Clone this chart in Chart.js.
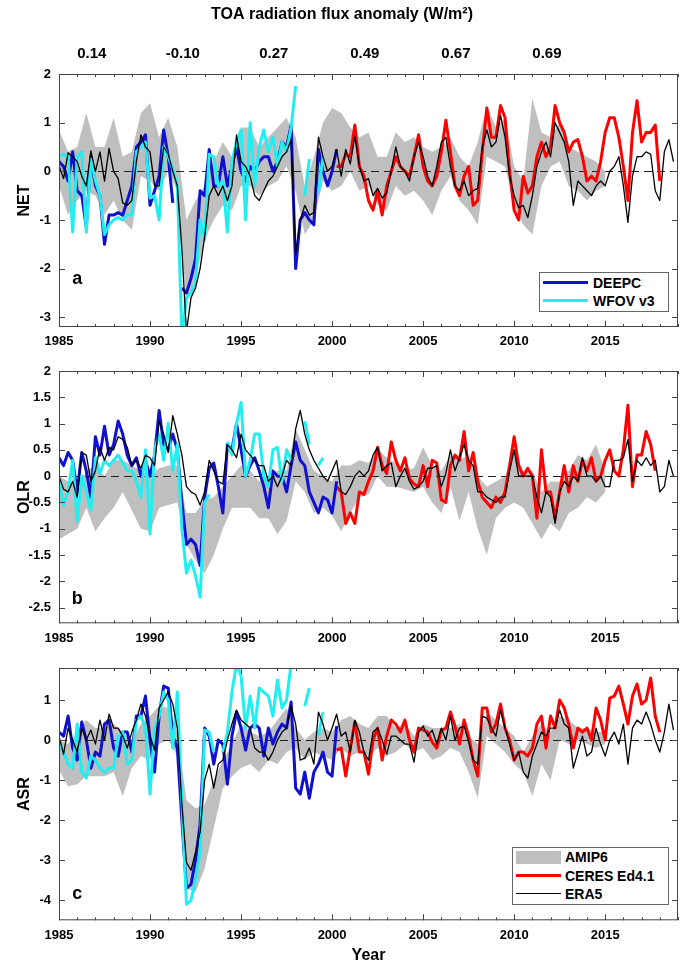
<!DOCTYPE html>
<html>
<head>
<meta charset="utf-8">
<script src="https://cdn.jsdelivr.net/npm/chart.js@4.4.0/dist/chart.umd.min.js"></script>
<style>
body { margin: 0; background: #fff; }
#wrap { position: relative; width: 685px; height: 965px; font-family: "Liberation Sans", Arial, sans-serif; }
canvas { position: absolute; left: 0; }
.legend { position: absolute; box-sizing: border-box; border: 1px solid #666; background: #fff; }
.legend .sw { position: absolute; left: 3px; width: 45px; }
.legend .lt { position: absolute; font-weight: bold; font-size: 14px; line-height: 16px; white-space: nowrap; color: #000; }
</style>
</head>
<body>
<div id="wrap">
	<canvas id="netChart" width="685" height="360" style="top:0px"></canvas>
	<canvas id="olrChart" width="685" height="310" style="top:345px"></canvas>
	<canvas id="asrChart" width="685" height="320" style="top:645px"></canvas>
	<div class="legend" style="left:539px;top:272px;width:130px;height:40px">
		<div class="sw" style="top:8px;height:3px;background:#1010d0"></div>
		<div class="lt" style="left:53px;top:2px">DEEPC</div>
		<div class="sw" style="top:26px;height:3px;background:#22eef2"></div>
		<div class="lt" style="left:53px;top:20px">WFOV v3</div>
	</div>
	<div class="legend" style="left:512px;top:847px;width:157px;height:58px">
		<div class="sw" style="top:3px;height:13px;background:#bfbfbf"></div>
		<div class="lt" style="left:52px;top:1px">AMIP6</div>
		<div class="sw" style="top:26px;height:3px;background:#ff0000"></div>
		<div class="lt" style="left:52px;top:20px">CERES Ed4.1</div>
		<div class="sw" style="top:45px;height:1px;background:#000"></div>
		<div class="lt" style="left:52px;top:38px">ERA5</div>
	</div>
</div>
<script>
// 5-year mean values printed above the top panel
const topYears = [1986.8, 1991.8, 1996.8, 2001.8, 2006.8, 2011.8];
const topLabels = ['0.14', '-0.10', '0.27', '0.49', '0.67', '0.69'];

// tick labels
const netTicks = [-3, -2, -1, 0, 1, 2];
const olrTicks = [-2.5, -2, -1.5, -1, -0.5, 0, 0.5, 1, 1.5, 2];
const asrTicks = [-4, -3, -2, -1, 0, 1];

// series start years (quarterly series, AMIP6 half-yearly)
const era5Start = 1985, deepcStart = 1985, wfovStart = 1985, ceresStart = 2000.25, amipStart = 1985;

// ---- NET ----
const netEra5 = [
	0.12, -0.15, 0.38, 0.3,  0.2, -0.1, -0.3, 0.42,  0.0, 0.4, -0.2, 0.47,  0.0, -0.15, -0.65, -0.7,
	-0.6, 0.2, 0.75, 0.5,  0.4, -0.3, -0.3, 0.5,  0.35, 0.0, -0.3, -1.6,  -3.3, -2.6, -2.4, -2.0,
	-1.35, -0.5, -0.3, -0.5,  -0.3, -0.6, -0.3, 0.75,  0.2, 0.1, -0.1, -0.5,  -0.6, -0.4, -0.2, -0.1,
	0.1, 0.3, 0.4, 0.65,  -1.7, -1.0, -0.7, -0.9,  -0.85, 0.7, 0.3, 0.0,  0.1, 0.45, -0.1, 0.45,
	0.15, 0.72, 0.1, -0.2,  -0.15, -0.5, -0.35, -0.55,  -0.45, 0.0, 0.5, 0.1,  0.0, -0.2, 0.3, 0.6,
	0.3, -0.1, -0.3, 0.1,  0.6, 0.7, 0.1, -0.3,  -0.4, -0.2, -0.5, -0.4,  -0.35, 0.5, 0.85, 0.5,
	0.6, 1.15, 0.7, -0.1,  -0.5, -0.75, -0.7, -0.95,  -0.5, 0.1, 0.4, 0.6,  0.3, 1.0, 0.8, 0.6,
	0.2, -0.7, -0.2, -0.3,  -0.4, -0.5, -0.3, -0.2,  -0.3, 0.0, 0.1, 0.3,  -0.3, -1.05, -0.1, 0.3,
	0.3, 0.4, 0.35, -0.4,  -0.6, 0.4, 0.65, 0.2
];
const netCeres = [
	0.1, 0.1, 0.35,  0.3, 0.95, 0.1, -0.1,  -0.6, -0.8, -0.4, -0.9,  -0.3, 0.0, 0.3, 0.1,
	0.0, -0.1, 0.3, 0.75,  0.1, -0.2, -0.3, -0.1,  0.4, 1.05, 0.4, -0.3,  -0.5, -0.1, 0.1, -0.7,
	-0.6, 0.4, 1.3, 0.7,  0.7, 1.35, 1.1, 0.0,  -0.8, -1.0, -0.1, -0.45,  -0.3, 0.3, 0.6, 0.3,
	0.5, 1.35, 1.0, 0.8,  0.4, 0.6, 0.65, 0.3,  -0.2, -0.1, -0.2, 0.2,  0.8, 1.1, 1.1, 0.7,
	0.1, -0.6, 0.8, 1.45,  0.6, 0.8, 0.8, 0.95,  -0.2
];
const netDeepc = [
	0.2, 0.1, -0.2, 0.4,  -0.4, -0.5, -1.15, 0.3,  -0.3, -0.5, -1.5, -0.9,  -0.9, -0.85, -0.9, -0.6,
	-0.3, 0.5, 0.6, 0.75,  -0.7, -0.4, -0.1, 0.85,  0.3, -0.65, null, -2.4,  -2.5, -2.2, -1.8, -0.4,
	-0.5, 0.45, -0.3, -0.3,  0.3, -0.3, 0.1, 0.5,  0.0, -0.2, 0.1, 0.0,  0.2, 0.3, 0.3, 0.0,
	0.2, 0.6, 0.5, 0.95,  -2.0, -1.0, -0.85, -1.0,  -1.1, 0.45, 0.0, -0.3,  0.0, 0.45
];
const netWfov = [
	0.3, 0.35, 0.3, -1.25,  0.3, 0.4, -1.25, 0.25,  -0.2, -0.5, -1.3, -1.1,  -1.0, -0.95, -1.0, -0.9,
	-0.9, 0.4, 0.5, 0.6,  -0.55, -0.5, -1.0, 0.5,  0.3, 0.05, -0.3, -3.4,  -2.6, -2.5, -2.3, -1.0,
	-1.4, 0.35, 0.3, -0.3,  -0.2, -1.25, 0.2, 0.6,  0.85, -1.0, 1.0, -0.3,  0.5, 0.85, 0.4, 0.7,
	0.1, 0.6, 0.4, 0.9,  1.75, null, -0.5, 0.25,  null, -0.45, 0.3
];
const netAmipHi = [
	0.85, 0.4, 0.5, 1.2, 0.5, 0.5, 1.1, 0.3, 0.4, 1.2, 1.4, 0.7, 1.1, 0.5, -1.0, -0.6,
	-0.3, 0.2, 0.6, 0.3, 0.9, 0.9, 0.5, 0.7, 0.9, 1.1, 0.7, -0.3, 0.3, 1.0, 1.3, 1.2,
	0.9, 0.7, 0.8, 0.3, 0.3, 0.8, 0.6, 0.7, 0.5, 0.4, 0.5, 0.7, 0.3, 0.1, 0.6, 1.35,
	0.9, 1.1, 0.1, -0.2, 1.5, 0.8, 0.7, 1.0, 0.5, 0.4, 0.3, 0.2, 0.0
];
const netAmipLo = [
	-0.3, -0.9, -0.6, -0.4, -0.5, -0.9, -0.6, -1.0, -1.2, -0.1, -0.2, -0.4, 0.0, -0.4, -2.7, -2.2,
	-1.4, -1.0, -0.7, -0.8, -0.3, -0.3, -0.5, -0.3, -0.2, 0.1, -0.4, -1.3, -1.0, -0.2, -0.4, -0.3,
	0.0, -0.4, -0.3, -0.7, -0.8, -0.3, -0.5, -0.4, -0.6, -0.9, -0.4, -0.1, -0.6, -0.8, -1.1, 0.3,
	0.2, 0.1, -0.7, -1.1, -1.3, -0.3, 0.1, 0.2, -0.3, -0.4, -0.6, -0.4, -0.3
];

// ---- OLR ----
const olrEra5 = [
	0.0, -0.25, -0.3, -0.1,  -0.4, 0.45, 0.4, -0.1,  0.1, 0.55, 0.3, 0.55,  0.5, 0.75, 0.7, 0.55,
	0.2, 0.3, 0.15, 0.4,  0.35, 0.2, 1.05, 0.8,  0.45, 1.15, 0.8, 0.4,  -0.2, -0.3, -0.35, -0.55,
	-0.3, 0.3, 0.1, -0.1,  -0.15, 0.6, 0.5, 0.35,  0.8, 0.5, 0.4, 0.3,  0.2, 0.2, -0.1, 0.0,
	-0.2, 0.0, 0.3, 0.2,  0.9, 1.25, 0.8, 0.5,  0.3, 0.15, 0.0, -0.1,  0.1, 0.3, -0.3, -0.35,
	-0.2, 0.0, 0.1, 0.0,  0.1, 0.4, 0.55, 0.1,  0.2, 0.25, -0.2, 0.0,  0.15, -0.1, -0.25, -0.2,
	-0.1, 0.15, 0.15, 0.2,  -0.2, 0.05, 0.5, 0.1,  0.35, 0.6, 0.3, 0.2,  -0.3, -0.3, -0.4, -0.45,
	-0.5, -0.4, -0.4, 0.1,  0.5, 0.0, 0.0, 0.0,  0.0, -0.4, -0.7, -0.3,  -0.4, -0.9, -0.3, -0.1,
	-0.2, 0.0, -0.1, 0.35,  0.0, 0.0, -0.1, 0.0,  -0.2, -0.2, 0.3, 0.3,  0.35, 0.7, -0.1, 0.3,
	0.2, 0.35, 0.2, 0.3,  -0.3, -0.2, 0.3, 0.0
];
const olrCeres = [
	-0.2, -0.3, -0.9,  -0.7, -0.9, -0.3, -0.35,  -0.1, 0.1, 0.55, 0.2,  0.05, 0.65, 0.3, 0.1,
	0.35, -0.05, -0.15, -0.2,  0.2, -0.2, 0.3, 0.25,  -0.45, -0.5, 0.2, 0.4,  0.3, 0.85, 0.1, 0.45,
	-0.1, -0.4, -0.5, -0.6,  -0.4, -0.5, -0.3, 0.2,  0.75, 0.2, 0.0, 0.15,  0.0, -0.8, 0.5, -0.3,
	-0.3, -0.8, -0.3, 0.2,  -0.3, 0.2, -0.1, 0.3,  0.1, 0.35, -0.1, 0.0,  0.3, 0.5, 0.1, 0.0,
	0.5, 1.35, -0.2, 0.4,  0.4, 0.85, 0.6, 0.1
];
const olrDeepc = [
	0.35, 0.2, 0.45, 0.3,  -0.3, 0.45, 0.1, -0.4,  0.75, 0.4, 0.95, 0.4,  0.6, 1.05, 0.8, 0.4,
	0.2, 0.35, 0.0, 0.3,  0.0, 0.4, 1.25, 0.6,  0.5, 0.8, 0.5, -0.5,  -1.3, -1.2, -1.3, -1.7,
	-0.4, 0.15, 0.25, -0.2,  -0.7, 0.6, 0.5, 1.0,  0.5, 0.0, 0.2, 0.35,  0.1, -0.2, -0.6, 0.1,
	0.0, 0.0, -0.3, 0.2,  0.65, 0.3, 0.2, -0.3,  -0.5, -0.7, -0.4, -0.45,  -0.7, -0.1
];
const olrWfov = [
	-0.1, -0.55, -0.3, 0.3,  -0.85, 0.0, -0.3, -0.65,  0.35, 0.05, 0.3, 0.2,  0.3, 0.4, 0.25, 0.1,
	0.1, -0.1, -0.4, 0.5,  -1.1, 0.5, 0.8, 0.3,  1.0, 0.1, 0.6, -1.0,  -1.85, -1.6, -1.9, -2.3,
	-0.5, -0.35, null, null,  null, 0.65, 0.4, 1.0,  1.4, 0.0, 0.3, 0.8,  0.8, 0.0, -0.2, 0.5,
	0.55, -0.1, 0.5, 0.3,  null, null, 1.05, 0.6,  null, 0.2, 0.35
];
const olrAmipHi = [
	0.0, -0.1, -0.2, 0.1, 0.2, 0.0, 0.3, 0.3, 0.2, 0.1, 0.0, 0.15, 0.2, 0.2, -0.7, -0.7,
	-0.45, -0.4, -0.2, 0.0, 0.2, 0.1, -0.1, 0.0, 0.1, 0.1, 0.9, 0.5, 0.1, 0.0, -0.1, 0.2,
	0.2, 0.3, 0.25, 0.5, 0.35, 0.25, 0.1, 0.15, 0.55, 0.2, 0.1, 0.4, 0.3, 0.4, 0.0, -0.2,
	-0.1, 0.0, 0.5, 0.1, 0.1, -0.3, -0.1, -0.1, 0.1, 0.4, 0.3, 0.6, 0.1
];
const olrAmipLo = [
	-1.2, -1.1, -1.0, -0.6, -1.05, -0.8, -0.6, -0.3, -0.65, -1.0, -1.05, -0.6, -0.55, -0.5, -1.3, -1.6,
	-1.85, -1.5, -1.0, -0.6, -0.6, -0.6, -0.8, -0.8, -1.1, -0.85, -0.1, -0.3, -0.7, -0.6, -0.75, -1.05,
	-0.7, -0.4, -0.35, 0.0, -0.2, -0.2, -0.25, -0.3, -0.2, -0.5, -0.7, -0.2, -0.85, -0.3, -1.0, -1.5,
	-0.8, -0.6, -0.5, -0.6, -0.9, -1.2, -0.9, -1.05, -0.7, -0.6, -0.4, -0.5, -0.3
];

// ---- ASR ----
const asrEra5 = [
	0.1, -0.35, 0.3, 0.0,  -0.3, 0.3, 0.0, 0.25,  -0.1, 0.5, 0.0, 0.65,  0.3, 0.3, 0.1, -0.2,
	0.2, 0.5, 0.9, 0.6,  0.1, -0.25, 0.8, 1.0,  1.2, 0.9, 0.3, -1.6,  -3.05, -3.25, -2.8, -2.3,
	-1.0, -0.6, -1.2, -0.6,  -0.5, 0.0, 0.4, 0.75,  0.5, 0.4, 0.3, -0.2,  -0.3, -0.3, -0.5, -0.3,
	0.0, 0.2, 0.3, 0.85,  0.4, -0.5, -0.45, -0.2,  -0.6, 0.7, 0.4, 0.0,  0.3, 0.65, 0.1, 0.2,
	-0.3, 0.5, 0.2, -0.3,  -0.5, 0.2, 0.3, 0.0,  -0.35, 0.1, 0.1, 0.0,  -0.1, -0.1, -0.55, 0.2,
	0.35, 0.1, 0.25, -0.1,  0.3, 0.0, 0.6, 0.0,  0.3, 0.35, -0.05, -0.5,  -0.6, 0.6, 0.55, 0.3,
	0.1, 0.75, 0.3, -0.1,  -0.5, -0.3, -0.8, -0.95,  -0.4, -0.1, 0.2, 0.1,  0.3, 0.3, 0.75, 0.4,
	0.3, -0.7, -0.3, 0.1,  -0.4, -0.3, 0.3, -0.1,  -0.4, 0.0, 0.2, -0.1,  0.4, -0.6, 0.3, 0.5,
	0.4, 0.7, 0.4, 0.0,  -0.3, 0.2, 0.9, 0.25
];
const asrCeres = [
	-0.25, -0.2, -0.9,  -0.2, 0.45, -0.3, -0.3,  -0.85, 0.0, 0.3, -0.5,  0.1, 0.5, 0.4, 0.2,
	0.5, 0.0, -0.3, 0.3,  0.25, 0.2, -0.05, -0.2,  0.25, 0.3, 0.7, 0.35,  -0.1, 0.5, 0.1, -0.5,
	-0.9, 0.8, 0.8, 0.2,  0.4, 0.9, 0.3, 0.0,  -0.5, -0.3, -0.3, -0.4,  -0.2, 0.4, 0.6, -0.2,
	0.6, 0.3, 1.0, 0.8,  0.4, -0.2, 0.3, 0.2,  0.3, 0.0, 0.8, 0.5,  0.0, 1.05, 1.1, 1.35,
	0.9, 0.4, 1.1, 1.4,  0.9, 1.0, 1.55, 0.6,  0.2
];
const asrDeepc = [
	0.2, 0.1, 0.6, -0.2,  -0.5, 0.45, 0.0, -0.7,  -0.3, -0.4, 0.4, 0.5,  -0.2, -0.4, 0.2, 0.2,
	-0.3, 0.6, 0.6, 1.1,  0.0, -0.8, 0.6, 1.35,  1.3, 0.1, -0.2, -2.0,  -3.7, -3.6, -3.0, -2.1,
	0.3, 0.1, -0.6, 0.0,  -0.1, -1.1, 0.1, 0.7,  0.3, -0.25, 0.3, 0.4,  0.3, -0.4, 0.3, -0.1,
	0.2, 0.4, 0.3, 0.95,  -1.2, -1.35, -0.8, -1.45,  -0.8, -0.6, -0.3, -0.8,  -0.9, 0.35
];
const asrWfov = [
	-0.1, -0.3, -0.6, -0.7,  0.4, -0.8, -0.95, -0.4,  -0.5, -0.7, -0.8, -0.7,  -0.7, 0.1, 0.2, -0.6,
	-0.5, 0.5, 0.6, 0.3,  -1.35, 0.3, 0.6, 1.2,  1.0, -0.2, 1.2, -1.5,  -4.1, -4.0, -3.5, -2.8,
	0.25, 0.2, -0.3, null,  -0.3, 0.2, 1.2, 1.9,  1.6, 0.3, 1.1, 0.3,  1.3, 1.2, 1.1, 0.6,
	1.5, 0.8, 1.0, 1.9,  null, null, 0.85, 1.3,  null, 0.1, 0.7
];
const asrAmipHi = [
	0.0, -0.1, 0.2, 0.5, 0.3, 0.3, 0.4, 0.2, 0.0, 0.4, 0.6, 0.85, 0.8, 0.2, -1.5, -1.7,
	-1.6, -1.0, -0.5, -0.1, 0.4, 0.2, 0.1, 0.2, 0.5, 0.8, 0.3, 0.0, 0.2, 0.3, 0.2, 0.5,
	0.6, 0.4, 0.3, 0.6, 0.6, 0.3, 0.4, 0.1, 0.4, 0.3, 0.3, 0.3, 0.4, 0.1, -0.1, 0.7,
	0.5, 0.3, 0.1, -0.3, 0.1, 0.4, 0.2, 0.6, 0.5, 0.3, 0.3, 0.2, 0.2
];
const asrAmipLo = [
	-0.75, -1.15, -1.1, -0.9, -0.9, -0.9, -0.8, -1.4, -0.7, -0.4, -0.5, -0.1, 0.0, -0.4, -3.7, -3.8,
	-3.2, -2.2, -1.2, -0.9, -0.7, -0.6, -0.8, -0.5, -0.6, -0.3, -0.2, -0.5, -0.3, -0.4, -0.5, -0.2,
	-0.4, -0.3, -0.4, -0.2, -0.4, -0.3, -0.1, -0.3, -0.2, -0.5, -0.4, -0.2, -0.3, -0.8, -1.45, 0.1,
	-0.1, -0.3, -0.6, -0.8, -1.4, -0.6, -1.0, 0.0, -0.1, 0.0, -0.1, -0.2, -0.1
];

function toXY(start, step, vals) {
	return vals.map((v, i) => ({ x: start + i * step, y: v }));
}

Chart.defaults.font.family = '"Liberation Sans", Arial, Helvetica, sans-serif';
Chart.defaults.font.size = 13;
Chart.defaults.font.weight = 'bold';
Chart.defaults.color = '#000';

// box, inward ticks, dashed zero line and panel letter
const framePlugin = {
	id: 'frame',
	afterDatasetDraw(chart, args) {
		if (!chart.data.datasets[args.index].zeroAfter) return;
		const a = chart.chartArea;
		const y0 = Math.round(chart.scales.y.getPixelForValue(0)) + 0.5;
		const ctx = chart.ctx;
		ctx.save();
		ctx.strokeStyle = '#222';
		ctx.lineWidth = 1;
		ctx.setLineDash([8, 5]);
		ctx.beginPath();
		ctx.moveTo(a.left, y0);
		ctx.lineTo(a.right, y0);
		ctx.stroke();
		ctx.restore();
	},
	afterDraw(chart, args, opts) {
		const { ctx, chartArea: a, scales: { x, y } } = chart;
		ctx.save();
		ctx.strokeStyle = '#444';
		ctx.lineWidth = 1;
		ctx.strokeRect(a.left + 0.5, a.top + 0.5, a.right - a.left - 1, a.bottom - a.top - 1);
		ctx.beginPath();
		x.ticks.forEach(t => {
			const px = Math.round(x.getPixelForValue(t.value)) + 0.5;
			const len = t.value % 5 === 0 ? 6 : 3;
			ctx.moveTo(px, a.bottom); ctx.lineTo(px, a.bottom - len);
			ctx.moveTo(px, a.top); ctx.lineTo(px, a.top + len);
		});
		y.ticks.forEach(t => {
			const py = Math.round(y.getPixelForValue(t.value)) + 0.5;
			ctx.moveTo(a.left, py); ctx.lineTo(a.left + 6, py);
			ctx.moveTo(a.right, py); ctx.lineTo(a.right - 6, py);
		});
		ctx.stroke();
		ctx.fillStyle = '#000';
		ctx.font = 'bold 18px "Liberation Sans", Arial, sans-serif';
		ctx.textAlign = 'center';
		ctx.textBaseline = 'alphabetic';
		ctx.fillText(opts.letter, x.getPixelForValue(opts.at[0]), y.getPixelForValue(opts.at[1]));
		ctx.restore();
	}
};

function makePanel(id, p) {
	const datasets = [
		{ label: 'AMIP6 min', data: toXY(amipStart, 0.5, p.amipLo), borderWidth: 0, borderColor: 'rgba(0,0,0,0)', fill: false, order: 5 },
		{ label: 'AMIP6', data: toXY(amipStart, 0.5, p.amipHi), borderWidth: 0, borderColor: 'rgba(0,0,0,0)', backgroundColor: '#bfbfbf', fill: '-1', order: 5, zeroAfter: true },
		{ label: 'CERES Ed4.1', data: toXY(ceresStart, 0.25, p.ceres), borderColor: '#ff0000', borderWidth: 3, order: 3 },
		{ label: 'DEEPC', data: toXY(deepcStart, 0.25, p.deepc), borderColor: '#1010d0', borderWidth: 3, order: 2 },
		{ label: 'WFOV v3', data: toXY(wfovStart, 0.25, p.wfov), borderColor: '#22eef2', borderWidth: 3, order: 1 },
		{ label: 'ERA5', data: toXY(era5Start, 0.25, p.era5), borderColor: '#000000', borderWidth: 1.3, order: 0 }
	];
	datasets.forEach(d => { d.pointRadius = 0; d.tension = 0; d.clip = 0; d.borderJoinStyle = 'round'; });

	const scales = {
		x: {
			type: 'linear', min: 1985, max: 2019,
			grid: { display: false, drawTicks: false }, border: { display: false },
			ticks: { stepSize: 1, maxTicksLimit: 100, autoSkip: false, maxRotation: 0, padding: 7,
				callback: v => (v % 5 === 0 ? String(v) : '') },
			title: { display: !!p.xTitle, text: p.xTitle || '', font: { size: 16, weight: 'bold' }, padding: { top: 0, bottom: 0 } },
			afterFit: s => { s.height = p.xAxisH; }
		},
		y: {
			type: 'linear', min: p.yMin, max: p.yMax,
			grid: { display: false, drawTicks: false }, border: { display: false },
			afterBuildTicks: s => { s.ticks = p.yTicks.map(v => ({ value: v })); },
			ticks: { padding: 8, callback: v => String(v) },
			title: { display: true, text: p.yTitle, font: { size: 16, weight: 'bold' }, padding: { top: 15, bottom: 0 } },
			afterFit: s => { s.width = 59; }
		}
	};
	if (p.topYears) {
		scales.xTop = {
			type: 'linear', position: 'top', min: 1985, max: 2019,
			grid: { display: false, drawTicks: false }, border: { display: false },
			afterBuildTicks: s => { s.ticks = p.topYears.map(v => ({ value: v })); },
			ticks: { autoSkip: false, maxRotation: 0, padding: 11, font: { size: 15, weight: 'bold' },
				callback: (v, i) => p.topLabels[i] },
			afterFit: s => { s.height = p.topH; }
		};
	}

	return new Chart(document.getElementById(id), {
		type: 'line',
		data: { datasets },
		options: {
			responsive: false,
			animation: false,
			devicePixelRatio: 1,
			events: [],
			layout: { padding: { top: p.padTop, right: 1, left: 0, bottom: 0 } },
			scales,
			plugins: {
				legend: { display: false },
				tooltip: { enabled: false },
				title: p.title ? { display: true, text: p.title, font: { size: 16, weight: 'bold' }, padding: { top: 5, bottom: 5 } } : { display: false },
				frame: { letter: p.letter, at: p.letterAt }
			}
		},
		plugins: [framePlugin]
	});
}

makePanel('netChart', {
	era5: netEra5, ceres: netCeres, deepc: netDeepc, wfov: netWfov, amipHi: netAmipHi, amipLo: netAmipLo,
	yMin: -3.2, yMax: 2, yTicks: netTicks, yTitle: 'NET',
	title: 'TOA radiation flux anomaly (W/m\u00B2)', topYears, topLabels, topH: 44.8,
	padTop: 0, xAxisH: 33, letter: 'a', letterAt: [1986, -2.32]
});
makePanel('olrChart', {
	era5: olrEra5, ceres: olrCeres, deepc: olrDeepc, wfov: olrWfov, amipHi: olrAmipHi, amipLo: olrAmipLo,
	yMin: -2.8, yMax: 2, yTicks: olrTicks, yTitle: 'OLR',
	padTop: 26, xAxisH: 31.7, letter: 'b', letterAt: [1986, -2.43]
});
makePanel('asrChart', {
	era5: asrEra5, ceres: asrCeres, deepc: asrDeepc, wfov: asrWfov, amipHi: asrAmipHi, amipLo: asrAmipLo,
	yMin: -4.5, yMax: 1.8, yTicks: asrTicks, yTitle: 'ASR', xTitle: 'Year',
	padTop: 23, xAxisH: 44.7, letter: 'c', letterAt: [1986, -3.97]
});
</script>
</body>
</html>
